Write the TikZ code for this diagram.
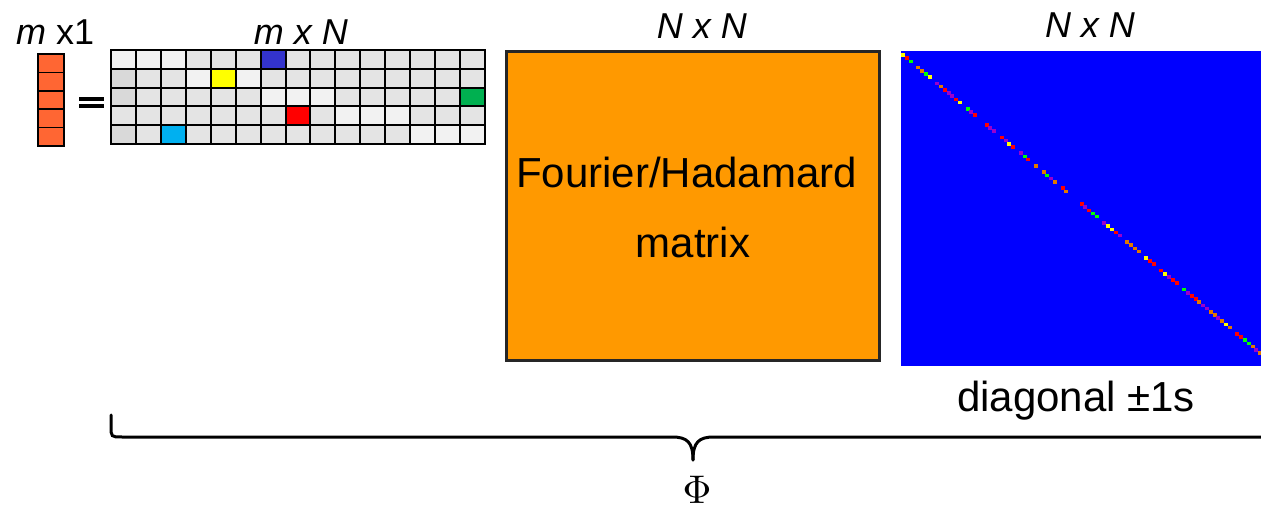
\documentclass[tikz,border=0pt]{standalone}
\usepackage{fontspec}
\setmainfont{Liberation Sans}
\definecolor{cL}{HTML}{F2F2F2}
\definecolor{cM}{HTML}{E4E4E4}
\definecolor{cD}{HTML}{D9D9D9}
\definecolor{cB}{HTML}{3333CC}
\definecolor{cY}{HTML}{FFFF00}
\definecolor{cG}{HTML}{00B050}
\definecolor{cR}{HTML}{FF0000}
\definecolor{cC}{HTML}{00B0F0}
\definecolor{vecorange}{HTML}{FF6633}
\definecolor{boxorange}{HTML}{FF9900}
\definecolor{diagblue}{HTML}{0000FF}
\definecolor{dY}{HTML}{FFFF00}
\definecolor{dR}{HTML}{FF0000}
\definecolor{dG}{HTML}{00FF00}
\definecolor{dO}{HTML}{E07800}
\definecolor{dP}{HTML}{9900CC}
\begin{document}
\begin{tikzpicture}[x=1pt,y=-1pt,
  toplbl/.style={font=\fontsize{36}{36}\selectfont, inner sep=0pt},
  biglbl/.style={font=\fontsize{42}{42}\selectfont, inner sep=0pt},
  gridline/.style={line width=2pt, black},
  bracestroke/.style={line width=3pt, black, line cap=round}]
\useasboundingbox (0,0) rectangle (1261,510);
\clip (0,0) rectangle (1261,510);
% column vector m x 1
\foreach \r in {0,...,4}
  \draw[fill=vecorange, line width=1.5pt] (38,{54+\r*18.4}) rectangle (64,{54+(\r+1)*18.4});
% equals sign
\fill[black] (79,97.5) rectangle (104,101.5);
\fill[black] (79,104) rectangle (104,108);
% m x N grid
\foreach \row [count=\r from 0] in {
  {L,L,L,M,M,M,B,M,M,M,M,M,M,M,M},
  {D,M,M,L,Y,L,M,M,M,M,M,M,M,M,M},
  {D,M,M,M,M,M,L,L,L,M,M,M,M,M,G},
  {M,M,M,M,M,M,M,R,M,L,L,L,M,M,M},
  {D,M,C,M,M,M,M,M,M,M,M,M,L,L,L}} {
  \foreach \c [count=\k from 0] in \row
    \fill[c\c] ({111+\k*24.9333},{50+\r*18.8}) rectangle ({111+(\k+1)*24.9333},{50+(\r+1)*18.8});
}
\foreach \k in {0,...,15}
  \draw[gridline] ({111+\k*24.9333},50) -- ({111+\k*24.9333},144);
\foreach \r in {0,...,5}
  \draw[gridline, line cap=rect] (111,{50+\r*18.8}) -- (485,{50+\r*18.8});
% Fourier/Hadamard box
\draw[fill=boxorange, draw=black!85, line width=3pt] (506.5,51.5) rectangle (879.5,360.5);
\node[biglbl, anchor=base] (fh) at (686.5,188) {Fourier/Hadamard};
\node[biglbl, anchor=base] (mat) at (693,258) {matrix};
% diagonal matrix
\fill[diagblue] (901,51) rectangle (1262,366);
\foreach \i/\col in {0/Y,1/R,2/G,4/O,5/O,6/G,7/Y,9/P,10/O,11/R,12/P,13/P,14/R,15/Y,17/G,18/P,19/R,
  22/R,23/P,24/P,26/R,27/P,28/Y,29/R,31/P,32/G,33/R,35/O,37/O,38/G,39/P,40/O,42/R,43/O,
  47/R,48/P,49/R,50/G,51/G,53/P,54/Y,55/Y,56/R,57/P,59/O,60/O,61/O,62/O,64/Y,65/R,66/R,
  68/R,69/Y,70/P,71/R,72/R,74/G,75/P,76/R,77/R,78/O,79/P,80/P,81/O,82/O,83/P,84/O,85/Y,
  86/O,88/R,89/R,90/G,91/G,92/O,93/P,94/O}
  \fill[d\col] ({903+3.8*\i-2},{55+3.17*\i-1.8}) rectangle ++(4,3.6);
\node[biglbl, anchor=base] (diag) at (1076,412) {diagonal ±1s};
% top labels
\node[toplbl, anchor=base west] (lv) at (16,45) {\textit{m} x1};
\node[toplbl, anchor=base] (lm) at (301,45) {\textit{m x N}};
\node[toplbl, anchor=base] (lf) at (702,39) {\textit{N x N}};
\node[toplbl, anchor=base] (ld) at (1090,38) {\textit{N x N}};
% brace
\draw[bracestroke] (111,415) -- (111,426) .. controls (111,437) .. (122,437) -- (672,437)
  .. controls (687,437) and (693,442) .. (693,460);
\draw[bracestroke] (1275,415) -- (1275,426) .. controls (1275,437) .. (1264,437) -- (714,437)
  .. controls (699,437) and (693,442) .. (693,460);
\coordinate (tip) at (693,460);
\node[inner sep=0pt, anchor=base, font=\normalsize, scale=4.0] (phi) at (697,503) {$\Phi$};
\end{tikzpicture}
\end{document}
